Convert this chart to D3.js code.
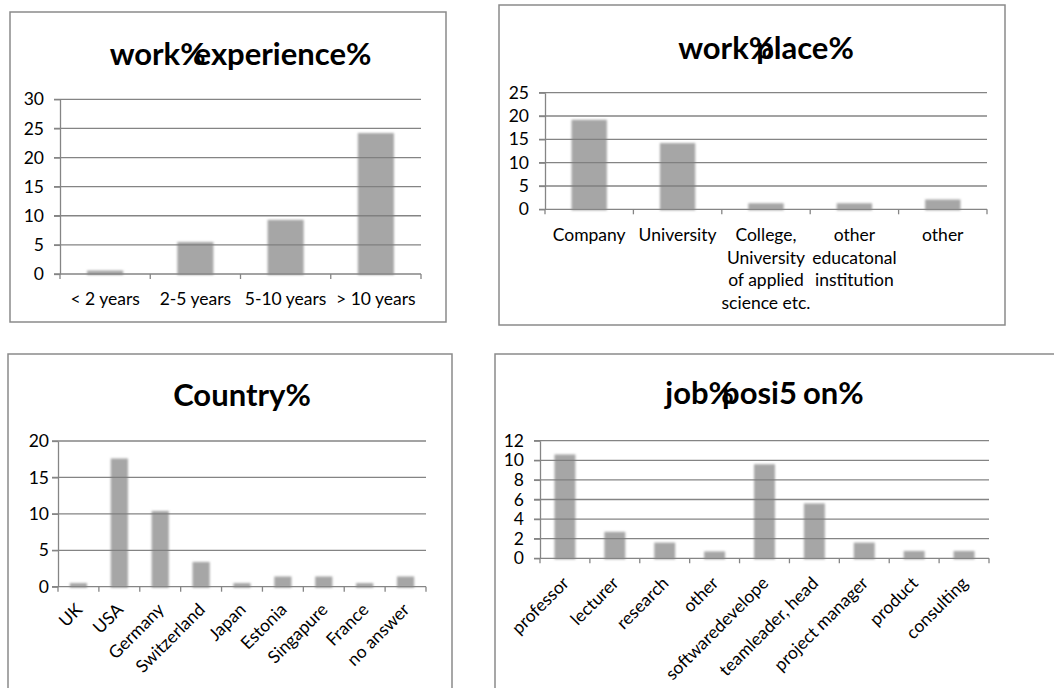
<!DOCTYPE html>
<html><head><meta charset="utf-8">
<script src="https://cdn.jsdelivr.net/npm/d3@7"></script>
<style>
html,body{margin:0;padding:0;background:#fff;}
svg{display:block;font-family:Lato,"Open Sans",sans-serif;}
</style></head>
<body>
<svg id="c" width="1054" height="688"></svg>
<script>
// ---------- data ----------
const expCategories = ["< 2 years", "2-5 years", "5-10 years", "> 10 years"];
const expValues = [0.6, 5.5, 9.3, 24.2];

const placeCategories = [["Company"], ["University"], ["College,", "University", "of applied", "science etc."], ["other", "educatonal", "institution"], ["other"]];
const placeValues = [19.2, 14.2, 1.3, 1.3, 2.1];

const countryCategories = ["UK", "USA", "Germany", "Switzerland", "Japan", "Estonia", "Singapure", "France", "no answer"];
const countryValues = [0.5, 17.6, 10.4, 3.4, 0.5, 1.4, 1.4, 0.5, 1.4];

const jobCategories = ["professor", "lecturer", "research", "other", "softwaredevelope", "teamleader, head", "project manager", "product", "consulting"];
const jobValues = [10.6, 2.7, 1.6, 0.7, 9.6, 5.6, 1.6, 0.75, 0.75];

const expTicks = [0, 5, 10, 15, 20, 25, 30];
const placeTicks = [0, 5, 10, 15, 20, 25];
const countryTicks = [0, 5, 10, 15, 20];
const jobTicks = [0, 2, 4, 6, 8, 10, 12];

const expTitle = ["work%", "experience%"];
const placeTitle = ["work%", "place%"];
const countryTitle = ["Country%"];
const jobTitle = ["job%", "posi5", "on%"];

// ---------- drawing ----------
const svg = d3.select("#c");
const defs = svg.append("defs");
defs.append("filter").attr("id", "soft").attr("x", "-20%").attr("y", "-20%").attr("width", "140%").attr("height", "140%")
  .append("feGaussianBlur").attr("stdDeviation", 1.3);

function panel(cfg) {
  const g = svg.append("g");
  g.append("rect").attr("x", cfg.frame[0]).attr("y", cfg.frame[1]).attr("width", cfg.frame[2]).attr("height", cfg.frame[3])
    .attr("fill", "#fff").attr("stroke", "#8a8a8a").attr("stroke-width", 1.5);

  const x = d3.scaleBand().domain(d3.range(cfg.values.length)).range([cfg.x0, cfg.x1]).paddingInner(0).paddingOuter(0);
  const y = d3.scaleLinear().domain([0, cfg.yMax]).range([cfg.yBot, cfg.yTop]);

  // bars
  const bw = x.bandwidth() * cfg.barFrac;
  g.append("g").attr("filter", "url(#soft)").selectAll("rect").data(cfg.values).join("rect")
    .attr("x", (d, i) => x(i) + (x.bandwidth() - bw) / 2)
    .attr("width", bw)
    .attr("y", d => y(d))
    .attr("height", d => y(0) - y(d) + 1)
    .attr("fill", "#a6a6a6");

  // grid lines (drawn over the bars, as in the reference)
  g.append("g").selectAll("line").data(cfg.ticks.filter(t => t > 0)).join("line")
    .attr("x1", cfg.x0 - 6).attr("x2", cfg.x1)
    .attr("y1", d => y(d)).attr("y2", d => y(d))
    .attr("stroke", "#7d7d7d").attr("stroke-width", 1.3).attr("stroke-opacity", 0.95);

  // y axis
  const ya = g.append("g").attr("transform", `translate(${cfg.x0},0)`)
    .call(d3.axisLeft(y).tickValues(cfg.ticks).tickSize(6).tickSizeOuter(0).tickPadding(cfg.yPad));
  ya.select(".domain").attr("stroke", "#858585").attr("stroke-width", 1.3);
  ya.selectAll(".tick line").attr("stroke", "#858585").attr("stroke-width", 1.3);
  ya.selectAll(".tick text").attr("font-size", cfg.fs).attr("font-family", "Lato").attr("fill", "#000");

  // x axis
  const xa = g.append("g").attr("transform", `translate(0,${cfg.yBot})`);
  xa.append("line").attr("x1", cfg.x0 - 6).attr("x2", cfg.x1).attr("y1", 0).attr("y2", 0)
    .attr("stroke", "#858585").attr("stroke-width", 1.3);
  const edges = d3.range(cfg.values.length + 1).map(i => cfg.x0 + i * x.bandwidth());
  xa.selectAll("line.tk").data(edges).join("line").attr("class", "tk")
    .attr("x1", d => d).attr("x2", d => d).attr("y1", 0).attr("y2", 5)
    .attr("stroke", "#858585").attr("stroke-width", 1.3);

  // category labels
  if (cfg.mode === "flat") {
    cfg.cats.forEach((c, i) => {
      const lines = Array.isArray(c) ? c : [c];
      const t = g.append("text").attr("text-anchor", "middle").attr("font-size", cfg.fs).attr("fill", "#000");
      lines.forEach((ln, k) => t.append("tspan").attr("x", x(i) + x.bandwidth() / 2)
        .attr("y", cfg.labelY + k * cfg.lineH).text(ln));
    });
  } else {
    cfg.cats.forEach((c, i) => {
      const cx = x(i) + x.bandwidth() / 2 + cfg.rotDx;
      const cy = cfg.yBot + cfg.rotDy;
      g.append("text").attr("text-anchor", "end").attr("font-size", cfg.fs).attr("fill", "#000")
        .attr("transform", `translate(${cx},${cy}) rotate(-45)`).text(c);
    });
  }

  // title
  const tt = g.append("text").attr("x", (cfg.x0 + cfg.x1) / 2).attr("y", cfg.titleY)
    .attr("text-anchor", "middle").attr("font-weight", "bold").attr("font-size", cfg.tfs).attr("fill", "#000");
  cfg.title.forEach((p, k) => {
    const ts = tt.append("tspan").text(p);
    if (k > 0) ts.attr("dx", cfg.titleDx[k - 1]);
  });
}

panel({ frame: [10, 12, 436, 310], x0: 60, x1: 421, yTop: 99.3, yBot: 274, yMax: 30, ticks: expTicks,
  values: expValues, cats: expCategories, mode: "flat", labelY: 305, lineH: 22.5, fs: 17.5, yPad: 10, barFrac: 0.4,
  title: expTitle, titleDx: [-11], titleY: 65, tfs: 31 });

panel({ frame: [499, 5, 506, 320], x0: 545, x1: 987, yTop: 92.7, yBot: 209.3, yMax: 25, ticks: placeTicks,
  values: placeValues, cats: placeCategories, mode: "flat", labelY: 241, lineH: 22.5, fs: 17.5, yPad: 10, barFrac: 0.4,
  title: placeTitle, titleDx: [-18], titleY: 59, tfs: 31 });

panel({ frame: [8, 354, 444, 345], x0: 58, x1: 426, yTop: 441, yBot: 586.7, yMax: 20, ticks: countryTicks,
  values: countryValues, cats: countryCategories, mode: "rot", rotDx: 5, rotDy: 24, fs: 17.5, yPad: 3, barFrac: 0.42,
  title: countryTitle, titleDx: [], titleY: 406, tfs: 31 });

panel({ frame: [495, 354, 580, 345], x0: 540, x1: 989, yTop: 440.7, yBot: 558.3, yMax: 12, ticks: jobTicks,
  values: jobValues, cats: jobCategories, mode: "rot", rotDx: 5, rotDy: 26, fs: 17.5, yPad: 10, barFrac: 0.42,
  title: jobTitle, titleDx: [-12, 6], titleY: 404, tfs: 31 });
</script>
</body></html>
